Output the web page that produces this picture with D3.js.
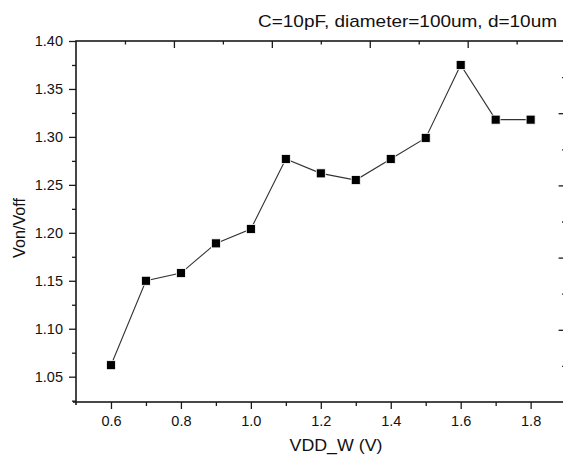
<!DOCTYPE html>
<html><head><meta charset="utf-8">
<script src="https://cdn.jsdelivr.net/npm/d3@7"></script>
<style>
body{margin:0;background:#fff;}
svg{display:block;font-family:"Liberation Sans",Arial,sans-serif;}
</style></head>
<body><svg id="c" width="563" height="457"></svg>
<script>
const xValues = [0.6,0.7,0.8,0.9,1.0,1.1,1.2,1.3,1.4,1.5,1.6,1.7,1.8];
const yValues = [1.062,1.150,1.158,1.189,1.204,1.277,1.262,1.255,1.277,1.299,1.375,1.318,1.318];
const xMajorTicks = [0.6,0.8,1.0,1.2,1.4,1.6,1.8];
const xMinorTicks = [0.7,0.9,1.1,1.3,1.5,1.7];
const yMajorTicks = [1.05,1.10,1.15,1.20,1.25,1.30,1.35,1.40];
const yMinorTicks = [1.025,1.075,1.125,1.175,1.225,1.275,1.325,1.375];
const frameMajorTicks = [1,2,3,4];
const frameMinorTicks = [0.5,1.5,2.5,3.5,4.5];
const titleText = "C=10pF, diameter=100um, d=10um";
const xTitle = "VDD_W (V)";
const yTitle = "Von/Voff";

const svg = d3.select("#c");
const L=76, R=565.6, T=41, B=402;
const x = d3.scaleLinear().domain([0.5,1.9]).range([L,R]);
const y = d3.scaleLinear().domain([1.0236,1.40]).range([B,T]);
const xt = d3.scaleLinear().domain([0,5]).range([L,R]);
const yr = d3.scaleLinear().domain([0,5]).range([B,T]);
const ink="#1a1a1a";

function style(g){
  g.select(".domain").remove();
  g.selectAll(".tick line").attr("stroke",ink).attr("stroke-width",1.3);
  g.selectAll(".tick text").attr("fill","#111").style("font-size","14.5px").style("font-family","'Liberation Sans',Arial,sans-serif");
}
svg.append("g").attr("transform",`translate(0,${B})`)
  .call(d3.axisBottom(x).tickValues(xMajorTicks).tickSize(7).tickPadding(7).tickFormat(d3.format(".1f"))).call(style);
svg.append("g").attr("transform",`translate(0,${B})`)
  .call(d3.axisBottom(x).tickValues(xMinorTicks).tickSize(4).tickFormat("")).call(style);
svg.append("g").attr("transform",`translate(${L},0)`)
  .call(d3.axisLeft(y).tickValues(yMajorTicks).tickSize(7).tickPadding(6).tickFormat(d3.format(".2f"))).call(style);
svg.append("g").attr("transform",`translate(${L},0)`)
  .call(d3.axisLeft(y).tickValues(yMinorTicks).tickSize(4).tickFormat("")).call(style);
svg.append("g").attr("transform",`translate(0,${T})`)
  .call(d3.axisBottom(xt).tickValues(frameMajorTicks).tickSize(7).tickFormat("")).call(style);
svg.append("g").attr("transform",`translate(0,${T})`)
  .call(d3.axisBottom(xt).tickValues(frameMinorTicks).tickSize(3.5).tickFormat("")).call(style);
svg.append("g").attr("transform",`translate(${R},0)`)
  .call(d3.axisLeft(yr).tickValues(frameMajorTicks).tickSize(7).tickFormat("")).call(style);
svg.append("g").attr("transform",`translate(${R},0)`)
  .call(d3.axisLeft(yr).tickValues(frameMinorTicks).tickSize(3.5).tickFormat("")).call(style);

svg.append("rect").attr("x",L).attr("y",T).attr("width",R-L).attr("height",B-T)
  .attr("fill","none").attr("stroke",ink).attr("stroke-width",1.6);
svg.append("line").attr("x1",L-3).attr("x2",L).attr("y1",B).attr("y2",B).attr("stroke",ink).attr("stroke-width",1.6);
svg.append("line").attr("x1",L).attr("x2",L).attr("y1",B).attr("y2",B+3).attr("stroke",ink).attr("stroke-width",1.6);

const data = xValues.map((v,i)=>({x:v,y:yValues[i]}));
svg.append("path").datum(data)
  .attr("fill","none").attr("stroke","#333").attr("stroke-width",1.1)
  .attr("d",d3.line().x(d=>x(d.x)).y(d=>y(d.y)));
const s=9;
svg.selectAll("rect.pt").data(data).enter().append("rect").attr("class","pt")
  .attr("x",d=>x(d.x)-s/2).attr("y",d=>y(d.y)-s/2).attr("width",s).attr("height",s)
  .attr("fill","#000").attr("stroke","#fff").attr("stroke-width",0.8);

svg.append("text").attr("x",557).attr("y",27).attr("text-anchor","end")
  .attr("textLength",299).attr("lengthAdjust","spacingAndGlyphs")
  .style("font-size","17px").attr("fill","#111").text(titleText);
svg.append("text").attr("x",336).attr("y",451).attr("text-anchor","middle")
  .attr("textLength",93).attr("lengthAdjust","spacingAndGlyphs")
  .style("font-size","16.5px").attr("fill","#111").text(xTitle);
svg.append("text").attr("transform","translate(24.5,228) rotate(-90)").attr("text-anchor","middle")
  .attr("textLength",60).attr("lengthAdjust","spacingAndGlyphs")
  .style("font-size","16.5px").attr("fill","#111").text(yTitle);
</script></body></html>
